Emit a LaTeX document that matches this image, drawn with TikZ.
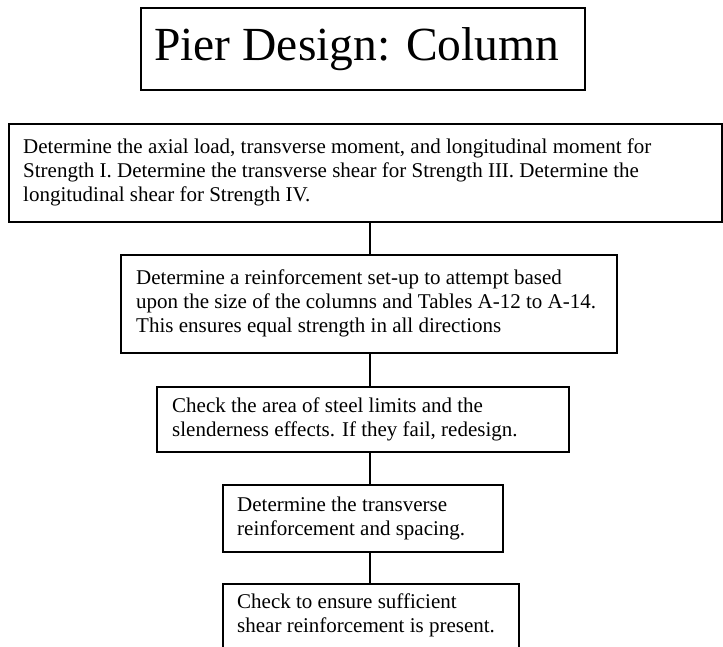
\documentclass[tikz,border=0pt]{standalone}
\usepackage{fontspec}
\setmainfont{Liberation Serif}
\begin{document}
\begin{tikzpicture}[x=1pt,y=-1pt,
  frame/.style={draw, line width=1.6pt, inner sep=0pt, anchor=north west},
  body/.style={anchor=west, align=left, inner sep=0pt,
    font=\fontsize{21}{24}\selectfont},
  link/.style={line width=1.6pt}]
\clip (0,0) rectangle (723,646);
\fill[white] (0,0) rectangle (723,646);

% heading
\node[frame, minimum width=444pt, minimum height=82pt] (title) at (140,7) {};
\node[font=\fontsize{47.5}{52}\selectfont, inner sep=0pt]
  (titletext) at ([xshift=-6pt]title.center) {Pier Design: Column};

% process boxes
\node[frame, minimum width=713pt, minimum height=98pt] (b1) at (8,123) {};
\node[frame, minimum width=496pt, minimum height=98pt] (b2) at (120,254) {};
\node[frame, minimum width=412pt, minimum height=65pt] (b3) at (156,386) {};
\node[frame, minimum width=280pt, minimum height=67pt] (b4) at (222,484) {};
\node[frame, minimum width=296pt, minimum height=64pt] (b5) at (222,583) {};

% box texts
\node[body] (t1) at ([xshift=15pt]b1.west) {Determine the axial load, transverse moment, and longitudinal moment for\\Strength I. Determine the transverse shear for Strength III. Determine the\\longitudinal shear for Strength IV.};
\node[body] (t2) at ([xshift=16pt]b2.west) {Determine a reinforcement set-up to attempt based\\upon the size of the columns and Tables A-12 to A-14.\\This ensures equal strength in all directions};
\node[body] (t3) at ([xshift=16pt]b3.west) {Check the area of steel limits and the\\slenderness effects. If they fail, redesign.};
\node[body] (t4) at ([xshift=15pt]b4.west) {Determine the transverse\\reinforcement and spacing.};
\node[body] (t5) at ([xshift=15pt]b5.west) {Check to ensure sufficient\\shear reinforcement is present.};

% connectors on a common vertical spine
\coordinate (spine) at (370,0);
\draw[link] (b1.south -| spine) -- (b2.north -| spine);
\draw[link] (b2.south -| spine) -- (b3.north -| spine);
\draw[link] (b3.south -| spine) -- (b4.north -| spine);
\draw[link] (b4.south -| spine) -- (b5.north -| spine);
\end{tikzpicture}
\end{document}
